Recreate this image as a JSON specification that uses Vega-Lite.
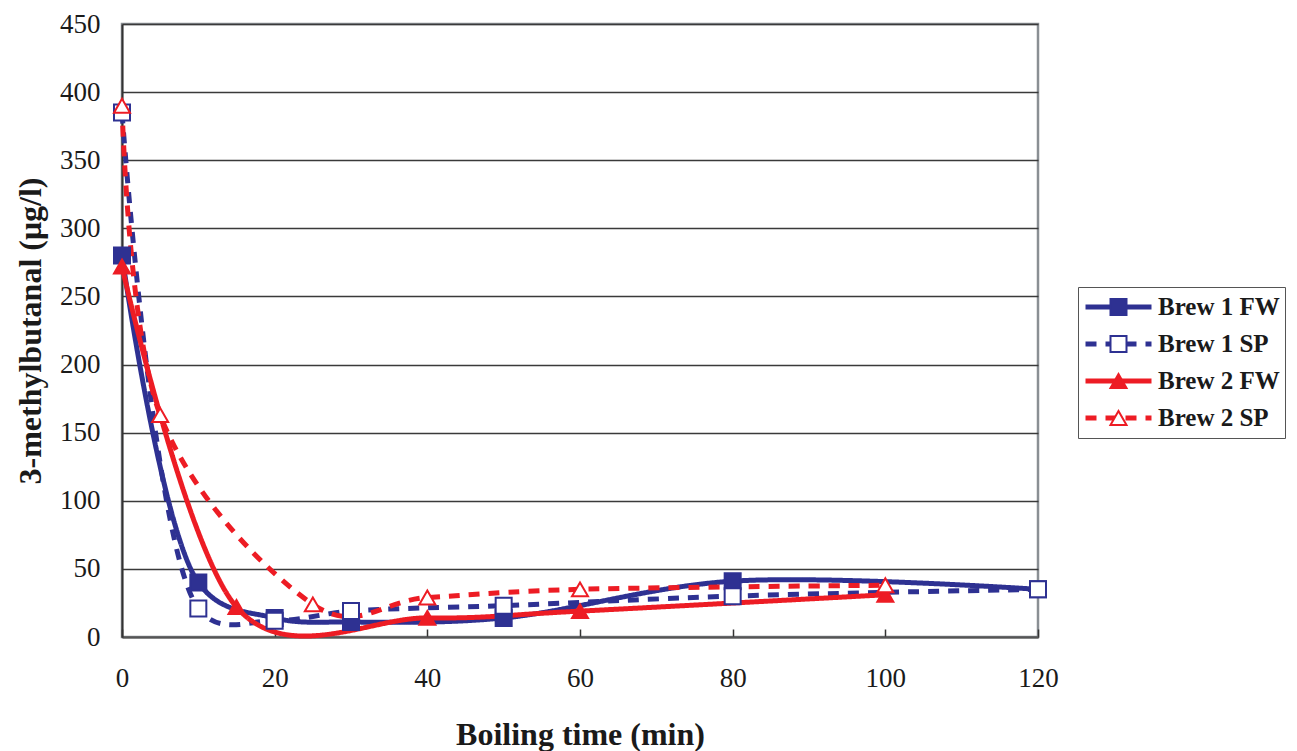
{
  "$schema": "https://vega.github.io/schema/vega-lite/v6.json",
  "width": 916,
  "height": 613,
  "autosize": {"type": "none"},
  "padding": {"left": 122, "top": 24, "right": 259, "bottom": 114},
  "background": "white",
  "config": {
    "font": "Liberation Serif",
    "view": {"stroke": "#8a8f94", "strokeWidth": 2.5}
  },
  "data": {
    "values": [
      {"series": "Brew 1 FW", "t": 0, "v": 280},
      {"series": "Brew 1 FW", "t": 10, "v": 40},
      {"series": "Brew 1 FW", "t": 20, "v": 14},
      {"series": "Brew 1 FW", "t": 30, "v": 11},
      {"series": "Brew 1 FW", "t": 50, "v": 14},
      {"series": "Brew 1 FW", "t": 80, "v": 41},
      {"series": "Brew 1 FW", "t": 120, "v": 35},
      {"series": "Brew 1 SP", "t": 0, "v": 385},
      {"series": "Brew 1 SP", "t": 10, "v": 21},
      {"series": "Brew 1 SP", "t": 20, "v": 12},
      {"series": "Brew 1 SP", "t": 30, "v": 19},
      {"series": "Brew 1 SP", "t": 50, "v": 23},
      {"series": "Brew 1 SP", "t": 80, "v": 30},
      {"series": "Brew 1 SP", "t": 120, "v": 35},
      {"series": "Brew 2 FW", "t": 0, "v": 272},
      {"series": "Brew 2 FW", "t": 15, "v": 22},
      {"series": "Brew 2 FW", "t": 40, "v": 14},
      {"series": "Brew 2 FW", "t": 60, "v": 19},
      {"series": "Brew 2 FW", "t": 100, "v": 31},
      {"series": "Brew 2 SP", "t": 0, "v": 390},
      {"series": "Brew 2 SP", "t": 5, "v": 163},
      {"series": "Brew 2 SP", "t": 25, "v": 24},
      {"series": "Brew 2 SP", "t": 40, "v": 29},
      {"series": "Brew 2 SP", "t": 60, "v": 35},
      {"series": "Brew 2 SP", "t": 100, "v": 38}
    ]
  },
  "encoding": {
    "x": {
      "field": "t",
      "type": "quantitative",
      "scale": {"domain": [0, 120], "nice": false},
      "axis": {
        "title": "Boiling time (min)",
        "values": [0, 20, 40, 60, 80, 100, 120],
        "grid": false,
        "tickSize": -8,
        "tickColor": "#333333",
        "tickWidth": 1.5,
        "domainColor": "#555555",
        "domainWidth": 2,
        "labelFlush": false,
        "labelFont": "Liberation Serif",
        "labelFontSize": 27,
        "labelColor": "#1a1a1a",
        "labelPadding": 36,
        "titleFont": "Liberation Serif",
        "titleFontSize": 32,
        "titleFontWeight": "bold",
        "titleColor": "#1a1a1a",
        "titlePadding": 28
      }
    },
    "y": {
      "field": "v",
      "type": "quantitative",
      "scale": {"domain": [0, 450], "nice": false},
      "axis": {
        "title": "3-methylbutanal (μg/l)",
        "values": [0, 50, 100, 150, 200, 250, 300, 350, 400, 450],
        "ticks": false,
        "grid": true,
        "gridColor": "#3a3a3a",
        "gridWidth": 1.5,
        "domainColor": "#333333",
        "domainWidth": 2,
        "labelFont": "Liberation Serif",
        "labelFontSize": 27,
        "labelColor": "#1a1a1a",
        "labelPadding": 22,
        "titleFont": "Liberation Serif",
        "titleFontSize": 32,
        "titleFontWeight": "bold",
        "titleColor": "#1a1a1a",
        "titlePadding": 12
      }
    }
  },
  "layer": [
    {
      "transform": [{"filter": "datum.series === 'Brew 1 FW' || datum.series === 'Brew 1 SP'"}],
      "mark": {"type": "line", "interpolate": "catmull-rom", "tension": 0.4, "strokeWidth": 5},
      "encoding": {
        "color": {
          "field": "series",
          "type": "nominal",
          "scale": {"range": ["#2e3192", "#2e3192", "#ed1c24", "#ed1c24"]},
          "legend": {
            "orient": "none",
            "legendX": 956,
            "legendY": 263,
            "title": null,
            "strokeColor": "#555555",
            "fillColor": "white",
            "padding": 5,
            "labelFont": "Liberation Serif",
            "labelFontWeight": "bold",
            "labelFontSize": 25,
            "labelColor": "#1a1a1a",
            "labelOffset": 4,
            "symbolType": "stroke",
            "symbolSize": 4356,
            "symbolStrokeWidth": 5,
            "clipHeight": 30,
            "rowPadding": 7
          }
        },
        "strokeDash": {
          "field": "series",
          "type": "nominal",
          "scale": {"range": [[1, 0], [11, 9], [1, 0], [11, 9]]},
          "legend": {
            "orient": "none",
            "legendX": 956,
            "legendY": 263,
            "title": null,
            "strokeColor": "#555555",
            "fillColor": "white",
            "padding": 5,
            "labelFont": "Liberation Serif",
            "labelFontWeight": "bold",
            "labelFontSize": 25,
            "labelColor": "#1a1a1a",
            "labelOffset": 4,
            "symbolType": "stroke",
            "symbolSize": 4356,
            "symbolStrokeWidth": 5,
            "clipHeight": 30,
            "rowPadding": 7
          }
        }
      }
    },
    {
      "transform": [{"filter": "datum.series === 'Brew 2 FW' || datum.series === 'Brew 2 SP'"}],
      "mark": {"type": "line", "interpolate": "cardinal", "tension": 0, "strokeWidth": 5},
      "encoding": {
        "color": {"field": "series", "type": "nominal"},
        "strokeDash": {"field": "series", "type": "nominal"}
      }
    },
    {
      "mark": {"type": "point", "filled": true, "opacity": 1, "strokeWidth": 2, "size": 256},
      "encoding": {
        "shape": {
          "field": "series",
          "type": "nominal",
          "scale": {
            "domain": ["Brew 1 FW", "Brew 1 SP", "Brew 2 FW", "Brew 2 SP"],
            "range": ["square", "square", "triangle-up", "triangle-up"]
          },
          "legend": {
            "orient": "none",
            "legendX": 956,
            "legendY": 263,
            "title": null,
            "padding": 5,
            "labelFontSize": 25,
            "labelExpr": "''",
            "symbolOffset": 23,
            "symbolSize": 256,
            "symbolStrokeWidth": 2,
            "symbolOpacity": 1,
            "clipHeight": 30,
            "rowPadding": 7
          }
        },
        "fill": {
          "field": "series",
          "type": "nominal",
          "scale": {
            "domain": ["Brew 1 FW", "Brew 1 SP", "Brew 2 FW", "Brew 2 SP"],
            "range": ["#2e3192", "white", "#ed1c24", "white"]
          },
          "legend": {
            "orient": "none",
            "legendX": 956,
            "legendY": 263,
            "title": null,
            "padding": 5,
            "labelFontSize": 25,
            "labelExpr": "''",
            "symbolOffset": 23,
            "symbolSize": 256,
            "symbolStrokeWidth": 2,
            "symbolOpacity": 1,
            "clipHeight": 30,
            "rowPadding": 7
          }
        },
        "stroke": {
          "field": "series",
          "type": "nominal",
          "scale": {
            "domain": ["Brew 1 FW", "Brew 1 SP", "Brew 2 FW", "Brew 2 SP"],
            "range": ["#2e3192", "#2e3192", "#ed1c24", "#ed1c24"]
          },
          "legend": {
            "orient": "none",
            "legendX": 956,
            "legendY": 263,
            "title": null,
            "padding": 5,
            "labelFontSize": 25,
            "labelExpr": "''",
            "symbolOffset": 23,
            "symbolSize": 256,
            "symbolStrokeWidth": 2,
            "symbolOpacity": 1,
            "clipHeight": 30,
            "rowPadding": 7
          }
        }
      }
    }
  ]
}
